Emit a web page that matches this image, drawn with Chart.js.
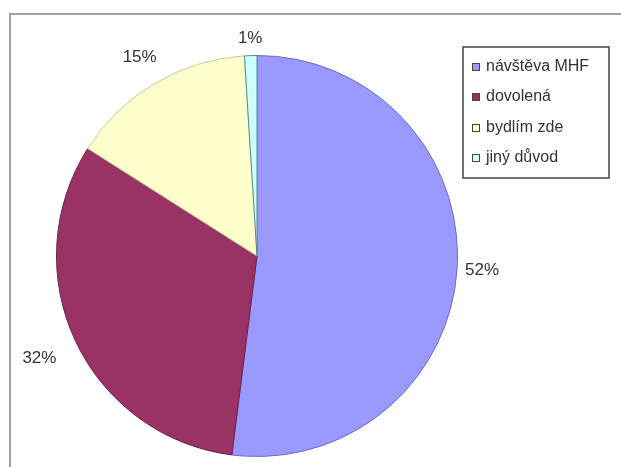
<!DOCTYPE html>
<html>
<head>
<meta charset="utf-8">
<script src="https://cdn.jsdelivr.net/npm/chart.js@4"></script>
<style>
  html, body { margin: 0; padding: 0; background: #fff; }
  #pie { display: block; }
</style>
</head>
<body>
<canvas id="pie" width="621" height="467"></canvas>
<script>
// datos del grafico
const categories = ['návštěva MHF', 'dovolená', 'bydlím zde', 'jiný důvod'];
const shares = [52, 32, 15, 1];
const sliceColors = ['#9999FF', '#993366', '#FFFFCC', '#CCFFFF'];
const sliceBorders = ['#6a6ad0', '#6e2248', '#c8c89a', '#5a8a8a'];

// distancia de cada etiqueta al borde del arco (estilo, no datos)
const labelGap = [25, 40, 30, 17];
const labelFont = '17px "Liberation Sans", Arial, sans-serif';

const decorPlugin = {
    id: 'decor',
    beforeDraw(chart) {
        const ctx = chart.ctx;
        ctx.save();
        ctx.fillStyle = '#fff';
        ctx.fillRect(0, 0, chart.width, chart.height);
        // marco exterior
        ctx.strokeStyle = '#a0a0a0';
        ctx.lineWidth = 2;
        ctx.strokeRect(10, 14, 640, 480);
        ctx.restore();
    },
    afterDraw(chart) {
        const ctx = chart.ctx;
        const meta = chart.getDatasetMeta(0);
        ctx.save();
        ctx.font = labelFont;
        ctx.fillStyle = '#333';
        ctx.textBaseline = 'middle';
        ctx.textAlign = 'center';
        meta.data.forEach((arc, i) => {
            const p = arc.getProps(['x', 'y', 'startAngle', 'endAngle', 'outerRadius'], true);
            const mid = (p.startAngle + p.endAngle) / 2;
            const r = p.outerRadius + labelGap[i];
            ctx.fillText(shares[i] + '%', p.x + Math.cos(mid) * r, p.y + Math.sin(mid) * r);
        });
        ctx.restore();

        // leyenda
        ctx.save();
        ctx.beginPath();
        ctx.rect(463, 47, 146, 131);
        ctx.fillStyle = '#fff';
        ctx.fill();
        ctx.strokeStyle = '#444';
        ctx.lineWidth = 1.5;
        ctx.stroke();
        ctx.clip();
        ctx.font = '16px "Liberation Sans", Arial, sans-serif';
        ctx.textBaseline = 'middle';
        ctx.textAlign = 'left';
        const rows = [67, 97, 128, 158];
        categories.forEach((name, i) => {
            ctx.fillStyle = sliceColors[i];
            ctx.fillRect(472, rows[i] - 4, 8, 8);
            ctx.strokeStyle = '#444';
            ctx.lineWidth = 1;
            ctx.strokeRect(472.5, rows[i] - 3.5, 7, 7);
            ctx.fillStyle = '#333';
            ctx.fillText(name, 486, rows[i]);
        });
        ctx.restore();
    }
};

const pieChart = new Chart(document.getElementById('pie'), {
    type: 'pie',
    data: {
        labels: categories,
        datasets: [{
            data: shares,
            backgroundColor: sliceColors,
            borderColor: sliceBorders,
            borderWidth: 1
        }]
    },
    options: {
        responsive: false,
        animation: false,
        layout: {
            padding: { left: 56, right: 163, top: 55, bottom: 10 }
        },
        plugins: {
            legend: { display: false },
            tooltip: { enabled: false }
        }
    },
    plugins: [decorPlugin]
});
</script>
</body>
</html>
